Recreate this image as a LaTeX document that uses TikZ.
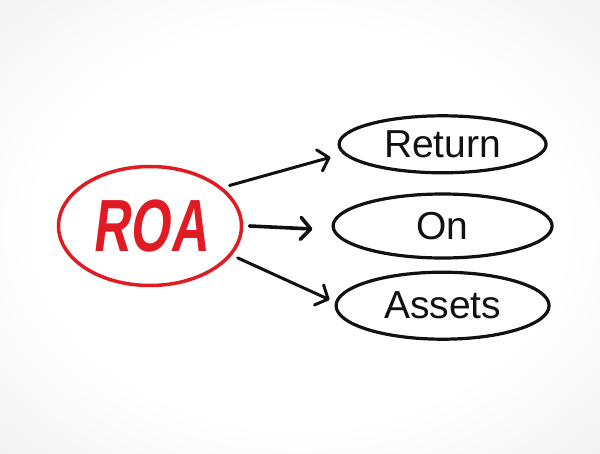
\documentclass[tikz,border=0pt]{standalone}
\usepackage{fontspec}
\setmainfont{Liberation Sans}
\newfontfamily\slantfont[FakeSlant=0.18]{Liberation Sans}
\usetikzlibrary{positioning,shapes.geometric,arrows.meta}
\definecolor{roared}{HTML}{E01B24}
\definecolor{ink}{HTML}{111111}
\definecolor{bggrey}{HTML}{E6E6E6}
\pgfdeclareradialshading{paper}{\pgfpoint{0bp}{0bp}}{color(0bp)=(white); color(22bp)=(white); color(50bp)=(bggrey)}

\tikzset{
	word/.style={ellipse, draw=ink, line width=3.2pt, inner sep=0pt, text=ink,
		font=\fontsize{39}{41}\selectfont},
	arr/.style={draw=ink, line width=3pt, line cap=round,
		-{Straight Barb[length=10pt,width=22pt,line cap=round,line join=round]}},
}

\begin{document}
\begin{tikzpicture}[x=1pt,y=-1pt]
		\shade[shading=paper] (0,0) rectangle (600,453);
		\useasboundingbox (0,0) rectangle (600,453);

		\node [ellipse, draw=roared, line width=3.5pt, minimum width=183pt, minimum height=119pt, outer sep=8pt, text=roared] (roa) at (150,226) {\scalebox{0.7}[1]{\slantfont\bfseries\fontsize{74}{76}\selectfont ROA}};
		\node [word, minimum width=219pt, minimum height=64pt, right=82pt of roa.east, anchor=west] (on) {On};
		\node [word, minimum width=207pt, minimum height=57pt, above=18pt of on] (ret) {Return};
		\node [word, minimum width=213pt, minimum height=67pt, below=11pt of on] (ast) {Assets};

		\draw [arr] (roa.27) -- ([xshift=-7pt,yshift=-13pt]ret.west);
		\draw [arr, line width=3.6pt] (roa.east) -- ([xshift=-19pt,yshift=-3pt]on.west);
		\draw [arr] (roa.-20) -- ([xshift=-5pt,yshift=6pt]ast.west);
	\end{tikzpicture}
\end{document}
